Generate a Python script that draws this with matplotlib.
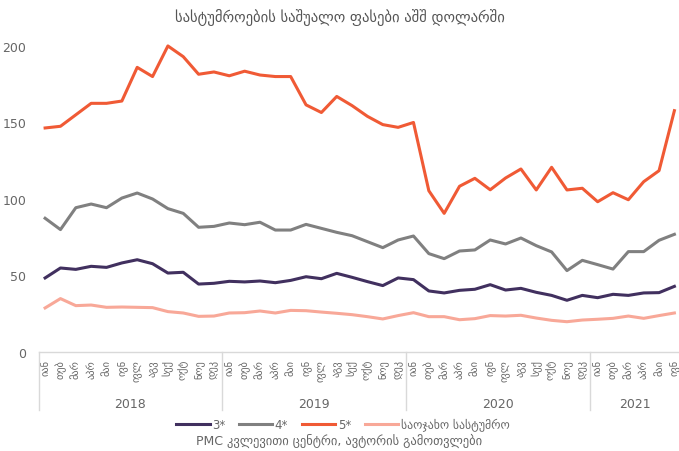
import matplotlib
matplotlib.use("Agg")
import matplotlib.pyplot as plt
from matplotlib.transforms import blended_transform_factory

plt.rcParams['font.family'] = ['DejaVu Sans']

# Months (Georgian abbreviations), Jan 2018 - Jun 2021
months = ['იან', 'თებ', 'მარ', 'აპრ', 'მაი', 'ივნ', 'ივლ', 'აგვ', 'სექ', 'ოქტ', 'ნოე', 'დეკ']
years = ['2018', '2019', '2020', '2021']
month_labels = months * 3 + months[:6]

star3 = [48.4, 54.9, 54.0, 56.0, 55.3, 58.2, 60.3, 57.7, 51.6, 52.1, 44.4, 44.9,
         46.2, 45.8, 46.4, 45.3, 46.8, 49.2, 47.9, 51.4, 48.8, 46.0, 43.4, 48.4,
         47.3, 39.9, 38.6, 40.3, 41.0, 44.0, 40.5, 41.6, 39.0, 37.0, 33.8, 37.0,
         35.5, 37.7, 37.0, 38.6, 38.8, 42.9]
star4 = [87.4, 80.0, 94.3, 96.7, 94.3, 100.6, 103.9, 100.0, 93.7, 90.6, 81.5, 82.1,
         84.3, 83.2, 84.8, 79.7, 79.7, 83.4, 80.8, 78.2, 76.0, 72.1, 68.2, 73.2,
         75.8, 64.3, 61.0, 66.0, 66.7, 73.2, 70.6, 74.5, 69.5, 65.4, 53.2, 59.9,
         57.1, 54.2, 65.6, 65.6, 73.0, 76.9]
star5 = [146.4, 147.5, 155.0, 162.5, 162.5, 164.0, 186.0, 180.0, 200.0, 193.0, 181.5, 183.0,
         180.5, 183.5, 181.0, 180.0, 180.0, 161.5, 156.5, 167.0, 161.0, 154.0, 148.6, 146.8,
         150.0, 105.4, 90.6, 108.3, 113.5, 106.0, 113.7, 119.6, 105.9, 120.7, 105.9, 107.0,
         98.2, 104.1, 99.5, 111.3, 118.5, 157.7]
guesthouse = [28.8, 34.9, 30.3, 30.7, 29.2, 29.4, 29.2, 29.0, 26.4, 25.5, 23.3, 23.5,
              25.5, 25.7, 26.8, 25.5, 27.2, 27.0, 26.1, 25.3, 24.4, 23.1, 21.6, 23.8,
              25.7, 23.1, 23.1, 21.1, 21.8, 23.8, 23.5, 24.0, 22.2, 20.7, 19.8, 20.9,
              21.4, 22.0, 23.5, 22.0, 23.8, 25.5]

x = list(range(len(month_labels)))

fig = plt.figure(figsize=(6.79, 4.52), dpi=100)
ax = fig.add_axes([0.0574, 0.219, 0.9426, 0.711])

ax.plot(x, star3, color='#41305f', lw=2.2, label='3*')
ax.plot(x, star4, color='#808080', lw=2.2, label='4*')
ax.plot(x, star5, color='#f05a35', lw=2.2, label='5*')
ax.plot(x, guesthouse, color='#f8a898', lw=2.2, label='საოჯახო სასტუმრო')

ax.set_xlim(-0.4, 41.3)
ax.set_ylim(0, 210)
ax.set_yticks([0, 50, 100, 150, 200])
ax.tick_params(axis='y', length=0, labelsize=9, labelcolor='#666666', pad=9)
ax.set_xticks(x)
ax.set_xticklabels(month_labels, rotation=90, fontsize=7.5, color='#666666')
ax.tick_params(axis='x', length=0, pad=5)

for s in ['top', 'right', 'left']:
    ax.spines[s].set_visible(False)
ax.spines['bottom'].set_color('#d9d9d9')
ax.spines['bottom'].set_linewidth(1)

# year groups below month labels
trans = blended_transform_factory(ax.transData, ax.transAxes)
bounds = [-0.4, 11.5, 23.5, 35.5, 41.3]
for b in bounds[:-1]:
    ax.plot([b, b], [0, -0.18], transform=trans, color='#d9d9d9', lw=1, clip_on=False)
for i, yr in enumerate(years):
    ax.text((bounds[i] + bounds[i + 1]) / 2, -0.16, yr, transform=trans,
            ha='center', va='center', fontsize=9, color='#666666')

fig.text(0.5, 0.962, 'სასტუმროების საშუალო ფასები აშშ დოლარში', ha='center', va='center',
         fontsize=10.5, color='#555555')

leg = fig.legend(loc='center', bbox_to_anchor=(0.505, 0.058), ncol=4, frameon=False,
                 fontsize=8.5, handlelength=2.8, handletextpad=0.2, columnspacing=1.2,
                 labelcolor='#666666')

fig.text(0.5, 0.024, 'PMC კვლევითი ცენტრი, ავტორის გამოთვლები', ha='center', va='center',
         fontsize=9, color='#666666')

fig.savefig('out.png', dpi=100)
